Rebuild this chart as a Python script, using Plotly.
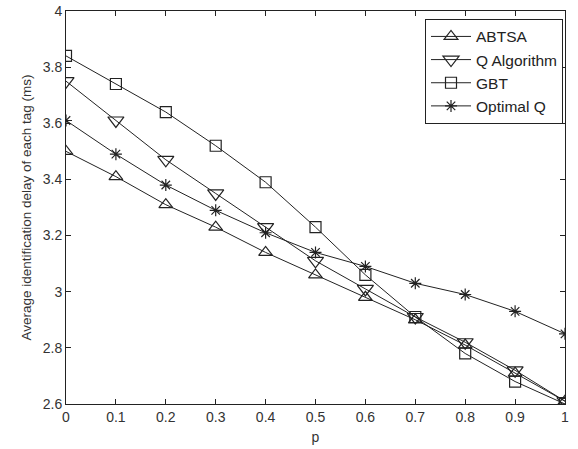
import plotly.graph_objects as go

p = [0, 0.1, 0.2, 0.3, 0.4, 0.5, 0.6, 0.7, 0.8, 0.9, 1.0]
abtsa = [3.50, 3.41, 3.31, 3.23, 3.14, 3.06, 2.98, 2.90, 2.81, 2.71, 2.61]
q_alg = [3.75, 3.61, 3.47, 3.35, 3.23, 3.11, 3.01, 2.91, 2.82, 2.72, 2.61]
gbt = [3.84, 3.74, 3.64, 3.52, 3.39, 3.23, 3.06, 2.91, 2.78, 2.68, 2.60]
opt_q = [3.61, 3.49, 3.38, 3.29, 3.21, 3.14, 3.09, 3.03, 2.99, 2.93, 2.85]

names = ["ABTSA", "Q Algorithm", "GBT", "Optimal Q"]
series = [abtsa, q_alg, gbt, opt_q]
symbols = ["triangle-up-open", "triangle-down-open", "square-open", "asterisk-open"]
sizes = [12, 14, 11, 10]

FONT = "Liberation Sans, Arial"

fig = go.Figure()
for n, s, sym, sz in zip(names, series, symbols, sizes):
    fig.add_trace(go.Scatter(
        x=p, y=s, name=n, mode="lines+markers",
        line=dict(color="#222222", width=1),
        marker=dict(symbol=sym, size=sz, color="#222222", line=dict(width=1.2, color="#222222")),
    ))

axis_common = dict(
    showline=True, linecolor="#222222", linewidth=1, mirror="ticks",
    ticks="inside", ticklen=5, tickcolor="#222222", showgrid=False, zeroline=False,
    automargin=False,
    tickfont=dict(family=FONT, size=14, color="#333333"),
)
fig.update_xaxes(range=[0, 1], dtick=0.1, tickformat="~g",
                 title=dict(text="p", font=dict(family=FONT, size=14, color="#333333"), standoff=8),
                 **axis_common)
fig.update_yaxes(range=[2.6, 4], dtick=0.2, tickformat="~g",
                 title=dict(text="Average identification delay of each tag (ms)",
                            font=dict(family=FONT, size=13.5, color="#333333"), standoff=8),
                 **axis_common)

fig.update_layout(
    width=578, height=449,
    margin=dict(l=66, r=13, t=11, b=45, autoexpand=False),
    paper_bgcolor="white", plot_bgcolor="white",
    legend=dict(x=0.996, y=0.98, xanchor="right", yanchor="top",
                bordercolor="#222222", borderwidth=1, bgcolor="white",
                font=dict(family=FONT, size=15.5, color="#222222"),
                tracegroupgap=0, itemwidth=40),
    showlegend=True,
)

fig.write_html("out.html")
